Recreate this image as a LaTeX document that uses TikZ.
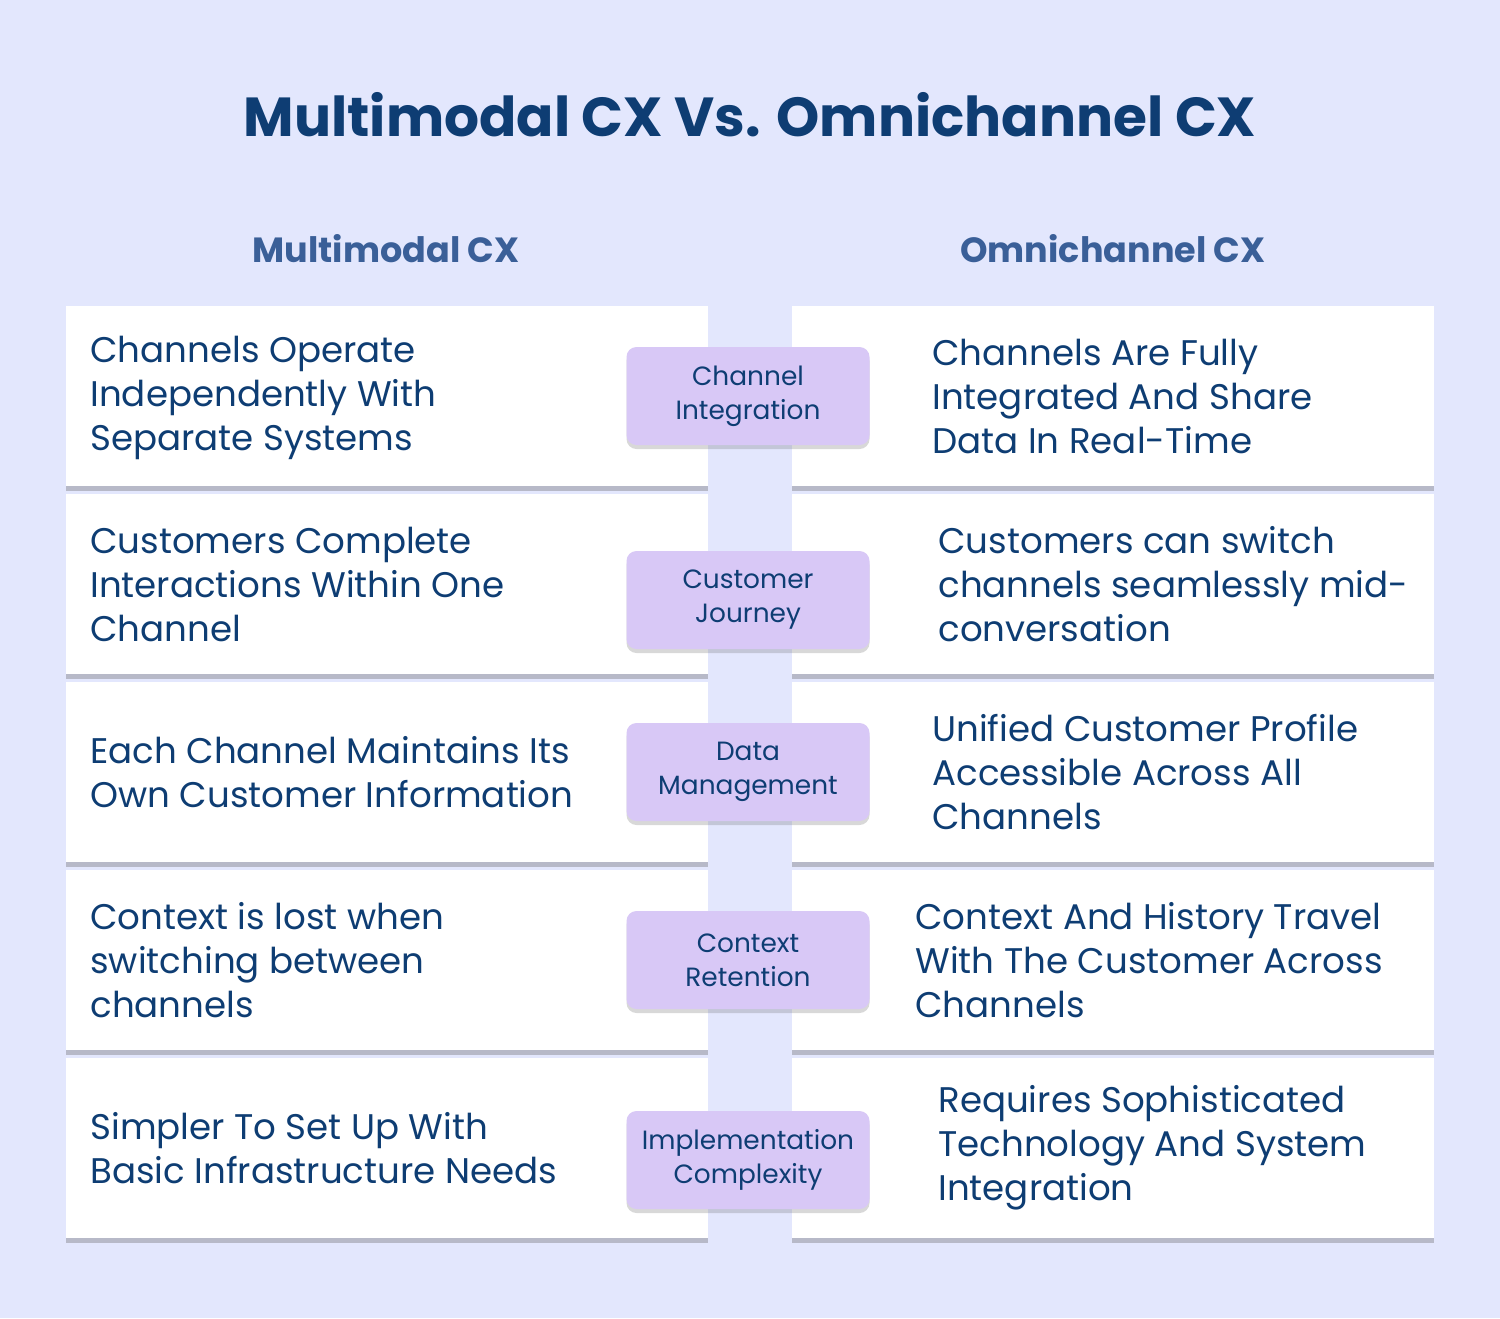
\documentclass[tikz,border=0pt]{standalone}
\usepackage{fontspec}
\setmainfont{Poppins}
\usetikzlibrary{positioning,shadows}
\definecolor{bgcol}{HTML}{E3E7FD}
\definecolor{ink}{HTML}{0E3D73}
\definecolor{headcol}{HTML}{3A5F98}
\definecolor{tagcol}{HTML}{D8C8F6}
\tikzset{
  box/.style={rectangle, fill=white, minimum width=321pt, minimum height=90pt,
    drop shadow={shadow xshift=0pt, shadow yshift=-2.5pt, opacity=0.35, fill=black!60}},
  tag/.style={rectangle, rounded corners=5pt, fill=tagcol, minimum width=121.5pt, minimum height=49pt,
    align=center, text=ink, font=\fontsize{13.2}{17}\selectfont,
    drop shadow={shadow xshift=0pt, shadow yshift=-2pt, opacity=0.25, fill=black!60}},
  txt/.style={anchor=west, align=left, text=ink, font=\fontsize{17.8}{22}\selectfont, inner sep=0pt},
  head/.style={text=headcol, font=\bfseries\fontsize{17.5}{22}\selectfont}
}
\begin{document}
\begin{tikzpicture}[x=0.5pt, y=-0.5pt]
\useasboundingbox[fill=bgcol] (0,0) rectangle (1500,1318);
% Titles
\node[text=ink, font=\bfseries\fontsize{27.5}{34}\selectfont] (title) at (750,115) {Multimodal CX Vs. Omnichannel CX};
\node[head] (headl) at (386,249) {Multimodal CX};
\node[head] (headr) at (1113,249) {Omnichannel CX};
% Boxes
\node[box] (l1) at (387,396) {};
\node[box] (l2) at (387,584) {};
\node[box] (l3) at (387,772) {};
\node[box] (l4) at (387,960) {};
\node[box] (l5) at (387,1148) {};
\node[box] (r1) at (1113,396) {};
\node[box] (r2) at (1113,584) {};
\node[box] (r3) at (1113,772) {};
\node[box] (r4) at (1113,960) {};
\node[box] (r5) at (1113,1148) {};
% Left texts
\node[txt] (tl1) at (90,398) {Channels Operate\\Independently With\\Separate Systems};
\node[txt] (tl2) at (90,584) {Customers Complete\\Interactions Within One\\Channel};
\node[txt] (tl3) at (90,772) {Each Channel Maintains Its\\Own Customer Information};
\node[txt] (tl4) at (90,960) {Context is lost when\\switching between\\channels};
\node[txt] (tl5) at (90,1148) {Simpler To Set Up With\\Basic Infrastructure Needs};
% Right texts
\node[txt] (tr1) at (932,396) {Channels Are Fully\\Integrated And Share\\Data In Real-Time};
\node[txt] (tr2) at (938,584) {Customers can switch\\channels seamlessly mid-\\conversation};
\node[txt] (tr3) at (932,772) {Unified Customer Profile\\Accessible Across All\\Channels};
\node[txt] (tr4) at (915,960) {Context And History Travel\\With The Customer Across\\Channels};
\node[txt] (tr5) at (938,1148) {Requires Sophisticated\\Technology And System\\Integration};
% Tags
\node[tag] (c1) at (748,396) {Channel\\Integration};
\node[tag] (c2) at (748,600) {Customer\\Journey};
\node[tag] (c3) at (748,772) {Data\\Management};
\node[tag] (c4) at (748,960) {Context\\Retention};
\node[tag] (c5) at (748,1160) {Implementation\\Complexity};
\end{tikzpicture}
\end{document}
